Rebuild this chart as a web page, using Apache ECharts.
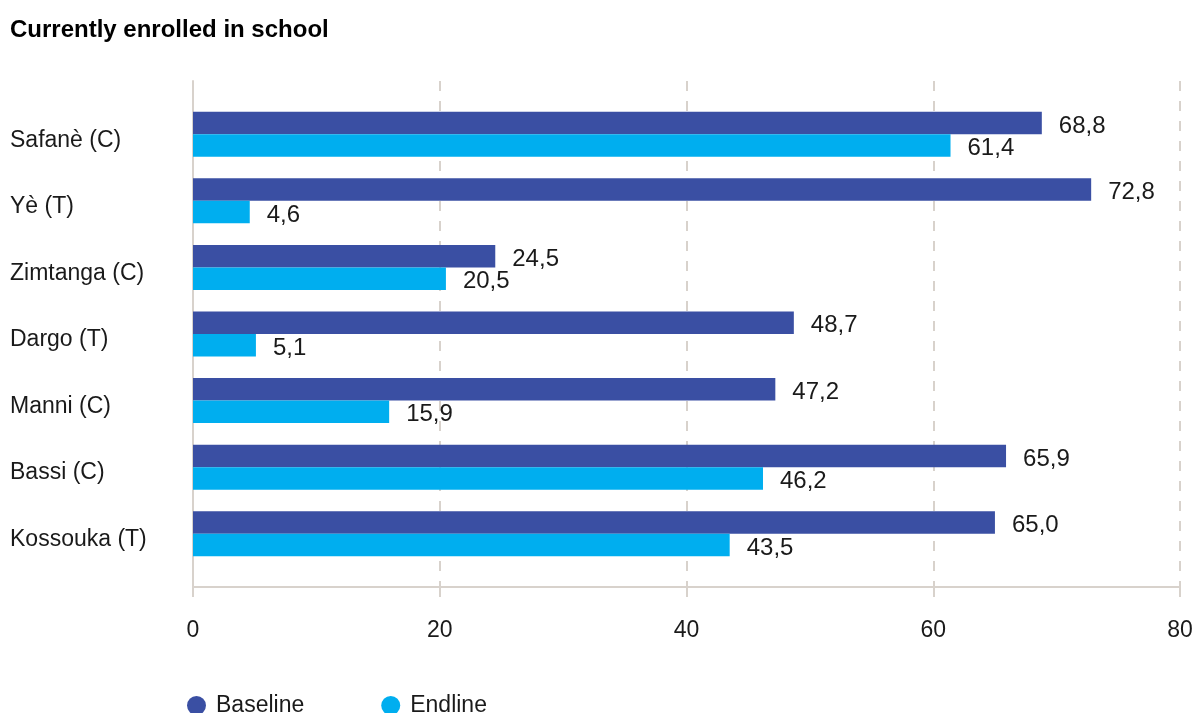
<!DOCTYPE html>
<html>
<head>
<meta charset="utf-8">
<title>Currently enrolled in school</title>
<script src="https://cdn.jsdelivr.net/npm/echarts@6/dist/echarts.min.js"></script>
<style>
  html, body { margin: 0; padding: 0; background: #ffffff; }
  #chart { width: 1200px; height: 713px; }
</style>
</head>
<body>
<div id="chart"></div>
<script>
// Villages (top to bottom) and enrolment shares in percent
const villages = ['Safanè (C)', 'Yè (T)', 'Zimtanga (C)', 'Dargo (T)', 'Manni (C)', 'Bassi (C)', 'Kossouka (T)'];
const baseline = [68.8, 72.8, 24.5, 48.7, 47.2, 65.9, 65.0];
const endline  = [61.4, 4.6, 20.5, 5.1, 15.9, 46.2, 43.5];
const seriesNames = ['Baseline', 'Endline'];
const axisTicks = [0, 20, 40, 60, 80];

const FONT = "'Liberation Sans', Arial, Helvetica, sans-serif";
const TEXT = '#1a1a1a';
const RULE = '#d8d2cc';
const COLORS = ['#3a4fa3', '#00aeef'];

const fmt = v => Number(v).toFixed(1).replace('.', ',');

const chart = echarts.init(document.getElementById('chart'), null, { renderer: 'canvas' });

const valueLabel = {
  show: true,
  position: 'right',
  distance: 17,
  fontFamily: FONT,
  fontSize: 24,
  color: TEXT,
  verticalAlign: 'top',
  lineHeight: 6,
  formatter: p => fmt(p.value)
};

chart.setOption({
  animation: false,
  backgroundColor: '#ffffff',
  title: {
    text: 'Currently enrolled in school',
    left: 10,
    top: 18,
    padding: 0,
    textStyle: { fontFamily: FONT, fontSize: 24, fontWeight: 'bold', color: '#000000' }
  },
  legend: {
    data: seriesNames,
    icon: 'circle',
    left: 187,
    top: 694,
    padding: 0,
    itemWidth: 19,
    itemHeight: 19,
    itemGap: 77,
    textStyle: { fontFamily: FONT, fontSize: 23, color: TEXT, padding: [0, 0, 0, 5] }
  },
  grid: [
    // frame: axis rules and dashed grid lines
    { left: 193, right: 20, top: 81, bottom: 126 },
    // bars
    { left: 193, right: 20, top: 101, bottom: 146 }
  ],
  xAxis: [
    {
      gridIndex: 0,
      type: 'value',
      min: axisTicks[0],
      max: axisTicks[axisTicks.length - 1],
      interval: axisTicks[1] - axisTicks[0],
      axisLine: { show: true, lineStyle: { color: RULE, width: 2 } },
      axisTick: { show: true, inside: false, length: 10, lineStyle: { color: RULE, width: 2 } },
      splitLine: { show: true, lineStyle: { color: RULE, width: 2, type: [10, 10] } },
      axisLabel: { margin: 32, fontFamily: FONT, fontSize: 23, color: TEXT }
    },
    {
      gridIndex: 1,
      type: 'value',
      min: axisTicks[0],
      max: axisTicks[axisTicks.length - 1],
      show: false
    }
  ],
  yAxis: [
    {
      gridIndex: 0,
      type: 'value',
      min: 0,
      max: 1,
      axisLine: { show: true, lineStyle: { color: RULE, width: 2 } },
      axisTick: { show: false },
      axisLabel: { show: false },
      splitLine: { show: false }
    },
    {
      gridIndex: 1,
      type: 'category',
      data: villages,
      inverse: true,
      axisLine: { show: false },
      axisTick: { show: false },
      splitLine: { show: false },
      axisLabel: {
        align: 'left',
        verticalAlign: 'top',
        lineHeight: 12,
        margin: 183,
        fontFamily: FONT,
        fontSize: 23,
        color: TEXT
      }
    }
  ],
  series: [
    {
      name: seriesNames[0],
      type: 'bar',
      xAxisIndex: 1,
      yAxisIndex: 1,
      data: baseline,
      barWidth: 22.5,
      barGap: '0%',
      itemStyle: { color: COLORS[0] },
      label: valueLabel
    },
    {
      name: seriesNames[1],
      type: 'bar',
      xAxisIndex: 1,
      yAxisIndex: 1,
      data: endline,
      barWidth: 22.5,
      barGap: '0%',
      itemStyle: { color: COLORS[1] },
      label: valueLabel
    }
  ]
});
</script>
</body>
</html>
